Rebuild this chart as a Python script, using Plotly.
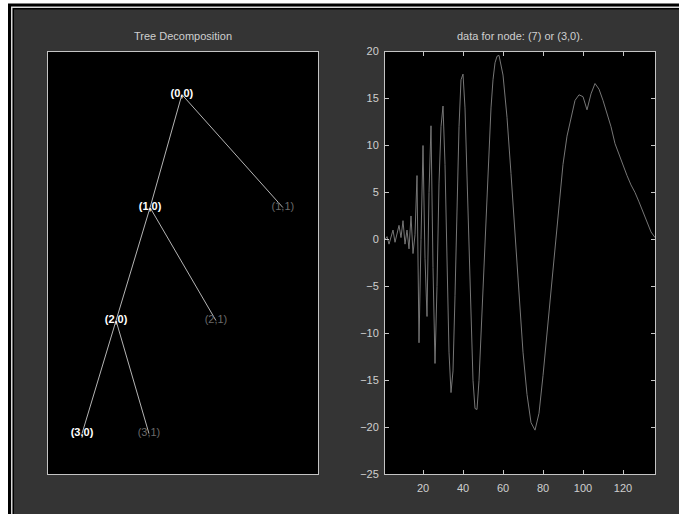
import plotly.graph_objects as go

# ---------------- data ----------------
node_labels = ["(0,0)", "(1,0)", "(1,1)", "(2,0)", "(2,1)", "(3,0)", "(3,1)"]
node_depth = [0, 1, 1, 2, 2, 3, 3]
node_pos = [0.496, 0.378, 0.870, 0.252, 0.622, 0.126, 0.374]
node_parent = [None, 0, 0, 1, 1, 3, 3]
node_active = [True, True, False, True, False, True, False]

sig_x = [1, 2, 3, 4, 5, 6, 7, 8, 9, 10, 11, 12, 13, 14, 15, 16, 17, 18, 19, 20,
         21, 22, 23, 24, 25, 26, 27, 28, 29, 30, 31, 32, 33, 34, 35, 36, 37, 38, 39, 40,
         41, 42, 43, 44, 45, 46, 47, 48, 49, 50, 51, 52, 53, 54, 55, 56, 57, 58, 60, 62,
         64, 66, 68, 70, 72, 74, 76, 78, 80, 82, 84, 86, 88, 90, 92, 94, 96, 98, 100, 102,
         104, 106, 108, 110, 112, 114, 116, 118, 120, 122, 124, 126, 128, 130, 132, 134, 136]
sig_y = [0.0, 0.3, -0.5, 0.4, 1.0, -0.3, 0.8, 1.5, 0.2, 2.0, -0.5, 1.0, -1.0, 2.5, -1.5, 0.5, 6.8, -11.0, 0.0, 10.0,
         -2.0, -8.2, 5.0, 12.1, -3.0, -13.2, -5.0, 6.0, 12.0, 14.2, 8.0, -3.0, -12.0, -16.3, -14.0, -6.0, 4.0, 12.0, 17.0, 17.6,
         14.0, 7.0, -1.0, -9.0, -15.0, -18.0, -18.1, -15.0, -10.0, -5.0, 0.0, 5.0, 10.0, 14.0, 17.0, 18.8, 19.5, 19.6, 17.5, 13.0,
         7.0, 0.5, -6.0, -12.0, -16.5, -19.5, -20.3, -18.5, -14.5, -10.0, -5.0, -0.5, 4.0, 8.0, 11.0, 13.0, 14.8, 15.4, 15.2, 13.8,
         15.5, 16.6, 16.0, 14.8, 13.5, 12.0, 10.2, 9.0, 8.0, 6.8, 5.8, 5.0, 4.0, 3.0, 1.8, 0.8, 0.2]

x_ticks = [20, 40, 60, 80, 100, 120]
y_ticks = [-25, -20, -15, -10, -5, 0, 5, 10, 15, 20]

left_title = "Tree Decomposition"
right_title = "data for node: (7) or (3,0)."

W, H = 679, 514
def px(p):
    return p / W
def py(p):
    # compensates the vertical placement observed in the rendered page
    return 1 - ((p - 6.5) / 0.975) / H

FONT = "Liberation Sans, Arial, sans-serif"
AXC = "#c4c4c4"
TXT = "#cfcfcf"

fig = go.Figure()

for i, par in enumerate(node_parent):
    if par is None:
        continue
    fig.add_trace(go.Scatter(
        x=[node_pos[par], node_pos[i]], y=[node_depth[par], node_depth[i]],
        mode="lines", line=dict(color="#b4b4b4", width=1),
        xaxis="x", yaxis="y", showlegend=False, hoverinfo="skip"))

fig.add_trace(go.Scatter(
    x=[p for p, a in zip(node_pos, node_active) if a],
    y=[d for d, a in zip(node_depth, node_active) if a],
    text=["<b>" + t + "</b>" for t, a in zip(node_labels, node_active) if a],
    mode="text", textfont=dict(color="#ffffff", size=11, family=FONT),
    xaxis="x", yaxis="y", showlegend=False))
fig.add_trace(go.Scatter(
    x=[p for p, a in zip(node_pos, node_active) if not a],
    y=[d for d, a in zip(node_depth, node_active) if not a],
    text=[t for t, a in zip(node_labels, node_active) if not a],
    mode="text", textfont=dict(color="#6a6a6a", size=11, family=FONT),
    xaxis="x", yaxis="y", showlegend=False))

fig.add_trace(go.Scatter(
    x=sig_x, y=sig_y, mode="lines", line=dict(color="#767676", width=1),
    xaxis="x2", yaxis="y2", showlegend=False))

shapes = []
def rect(x0, y0, x1, y1, color, layer="below"):
    shapes.append(dict(type="rect", xref="paper", yref="paper",
                       x0=px(x0), x1=px(x1), y0=py(y1), y1=py(y0),
                       fillcolor=color, line=dict(width=0), layer=layer))
rect(8, 4, 720, 560, "#000000")
rect(11, 7, 720, 560, "#d8d8d8")
rect(12.5, 8.5, 720, 560, "#000000")
rect(14, 10, 720, 560, "#343434")
rect(48, 52, 318, 474, "#000000")
rect(385, 52, 655, 474, "#000000")

fig.update_layout(
    width=W, height=H,
    margin=dict(l=0, r=0, t=0, b=0),
    paper_bgcolor="#ffffff", plot_bgcolor="#000000",
    shapes=shapes,
    hovermode=False,
    font=dict(family=FONT, size=10, color=TXT),
    xaxis=dict(domain=[px(48), px(318)], range=[0, 1], showgrid=False, zeroline=False,
               showticklabels=False, ticks="", showline=True, linecolor=AXC, linewidth=1,
               mirror=True, anchor="y", fixedrange=True),
    yaxis=dict(domain=[py(474), py(52)], range=[3.36, -0.38], showgrid=False, zeroline=False,
               showticklabels=False, ticks="", showline=True, linecolor=AXC, linewidth=1,
               mirror=True, anchor="x", fixedrange=True),
    xaxis2=dict(domain=[px(385), px(655)], range=[1, 136], showgrid=False, zeroline=False,
                tickvals=x_ticks, ticks="inside", ticklen=4, tickcolor=AXC,
                showline=True, linecolor=AXC, linewidth=1, mirror="ticks", anchor="y2",
                ticklabelstandoff=4,
                tickfont=dict(size=11, color=TXT, family=FONT)),
    yaxis2=dict(domain=[py(474), py(52)], range=[-25, 20], showgrid=False, zeroline=False,
                tickvals=y_ticks, ticks="inside", ticklen=4, tickcolor=AXC,
                showline=True, linecolor=AXC, linewidth=1, mirror="ticks", anchor="x2",
                ticklabelstandoff=3,
                tickfont=dict(size=11, color=TXT, family=FONT)),
    annotations=[
        dict(text=left_title, x=px(183), y=py(36), xref="paper", yref="paper",
             xanchor="center", yanchor="middle",
             showarrow=False, font=dict(size=11, color=TXT, family=FONT)),
        dict(text=right_title, x=px(520), y=py(36), xref="paper", yref="paper",
             xanchor="center", yanchor="middle",
             showarrow=False, font=dict(size=11, color=TXT, family=FONT)),
    ],
)

post = ("document.documentElement.style.margin='0';"
        "document.documentElement.style.overflow='hidden';"
        "document.body.style.margin='0';document.body.style.padding='0';"
        "document.body.style.overflow='hidden';"
        "var d=document.getElementById('{plot_id}');"
        "d.style.position='fixed';d.style.left='0px';d.style.top='0px';")
fig.write_html("out.html", config={"displayModeBar": False}, post_script=post)
